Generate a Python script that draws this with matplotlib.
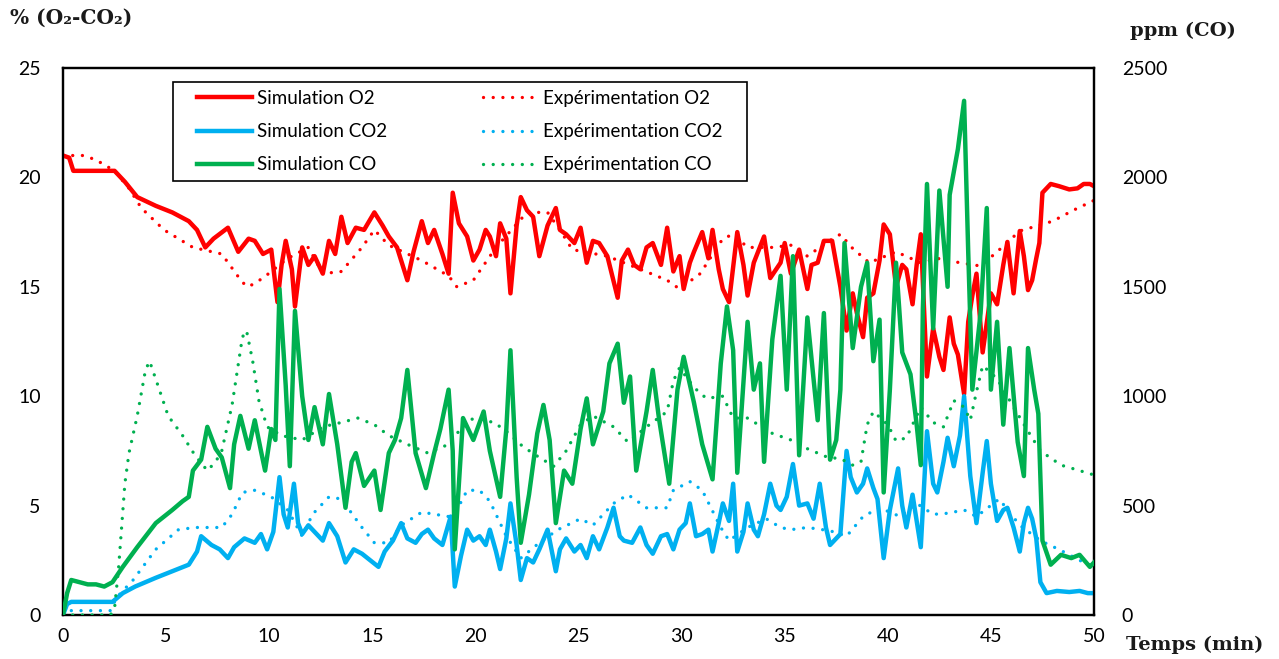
import matplotlib
matplotlib.use("Agg")
import matplotlib.pyplot as plt
from matplotlib.patches import Rectangle


# =====================================
# Data (time in min, O2 / CO2 in %, CO in ppm)
# =====================================

sim_o2_t = [0, 0.3, 0.5, 1.5, 2.5, 3.0, 3.6, 4.5, 5.3, 6.1, 6.5, 6.9, 7.3, 8.0, 8.5, 9.0,
            9.3, 9.7, 10.1, 10.4, 10.6, 10.8, 11.1, 11.25, 11.6, 11.9, 12.2, 12.6, 12.9,
            13.2, 13.5, 13.8, 14.2, 14.6, 15.1, 15.5, 15.8, 16.2, 16.7, 17.0, 17.4, 17.7,
            18.0, 18.4, 18.7, 18.9, 19.2, 19.6, 19.9, 20.2, 20.5, 20.7, 21.0, 21.2, 21.5,
            21.7, 22.0, 22.2, 22.5, 22.8, 23.1, 23.5, 23.9, 24.1, 24.4, 24.8, 25.1, 25.4,
            25.7, 26.0, 26.4, 26.9, 27.1, 27.4, 27.7, 28.0, 28.3, 28.6, 29.0, 29.3, 29.6,
            29.9, 30.1, 30.4, 30.6, 31.0, 31.3, 31.5, 31.8, 32.0, 32.3, 32.7, 33.0, 33.2,
            33.5, 34.0, 34.3, 34.8, 35.0, 35.3, 35.7, 36.1, 36.3, 36.6, 36.9, 37.3, 37.7,
            38.0, 38.3, 38.5, 38.8, 39.0, 39.3, 39.6, 39.8, 40.1, 40.4, 40.7, 40.9, 41.2,
            41.4, 41.6, 41.9, 42.2, 42.5, 42.7, 43.0, 43.2, 43.4, 43.7, 43.9, 44.1, 44.3,
            44.6, 45.0, 45.3, 45.6, 45.8, 46.1, 46.4, 46.6, 46.8, 47.0, 47.2, 47.35, 47.5,
            47.9, 48.3, 48.8, 49.2, 49.5, 49.8, 50.0]
sim_o2 = [21.0, 20.9, 20.3, 20.3, 20.3, 19.8, 19.1, 18.7, 18.4, 18.0, 17.6, 16.8, 17.2, 17.7,
          16.6, 17.2, 17.1, 16.5, 16.7, 14.3, 16.0, 17.1, 15.8, 14.1, 16.8, 16.0, 16.4, 15.6,
          17.1, 16.5, 18.2, 17.0, 17.7, 17.6, 18.4, 17.8, 17.3, 16.8, 15.3, 16.6, 18.0, 17.0,
          17.6, 16.5, 15.6, 19.3, 17.9, 17.3, 16.2, 16.7, 17.6, 17.3, 16.4, 17.9, 17.2, 14.7,
          17.8, 19.1, 18.5, 18.2, 16.4, 17.8, 18.6, 17.6, 17.4, 17.0, 17.7, 16.1, 17.1, 17.0,
          16.4, 14.5, 16.2, 16.7, 16.0, 15.8, 16.8, 17.0, 16.0, 17.7, 15.7, 16.4, 14.9, 16.1,
          16.6, 17.5, 16.3, 17.6, 15.8, 14.9, 14.3, 17.5, 16.0, 14.6, 16.1, 17.3, 15.4, 16.1,
          17.0, 15.6, 16.7, 14.9, 16.0, 16.1, 17.1, 17.1, 15.0, 13.0, 14.7, 13.8, 12.7, 14.5,
          14.7, 16.2, 17.85, 17.4, 15.0, 16.0, 15.8, 14.2, 16.0, 17.4, 10.9, 13.1, 11.8, 11.2,
          13.6, 12.4, 11.9, 10.1, 13.4, 14.6, 15.6, 12.0, 14.7, 14.2, 16.0, 17.05, 14.7, 17.55,
          16.4, 14.85, 15.3, 16.3, 17.0, 19.3, 19.7, 19.6, 19.45, 19.5, 19.7, 19.7, 19.6]

exp_o2_t = [0, 0.5, 1.0, 1.6, 2.5, 3.2, 3.8, 4.9, 6.3, 7.7, 8.7, 9.0, 9.7, 10.9, 11.9, 12.6,
            13.5, 14.5, 15.1, 15.8, 17.4, 18.7, 19.1, 19.9, 21.0, 22.5, 23.5, 24.1, 24.7,
            26.4, 28.0, 29.3, 29.9, 30.9, 32.0, 32.5, 33.2, 34.4, 35.3, 36.1, 37.0, 37.7,
            38.3, 39.1, 40.4, 41.6, 42.4, 43.5, 44.5, 45.3, 46.4, 48.0, 49.0, 50.0]
exp_o2 = [21.0, 21.0, 21.0, 20.8, 20.3, 19.5, 18.6, 17.6, 16.8, 16.5, 15.2, 15.0, 15.4, 16.3,
          16.8, 15.6, 15.7, 16.8, 17.6, 16.9, 16.2, 15.5, 15.0, 15.3, 16.8, 18.4, 18.4, 17.6,
          16.7, 16.4, 15.8, 15.3, 14.9, 15.6, 17.2, 17.4, 16.8, 16.8, 16.9, 16.4, 17.0, 17.4,
          16.75, 16.1, 16.6, 16.1, 16.3, 16.1, 15.95, 16.6, 17.55, 18.0, 18.5, 18.95]

sim_co2_t = [0, 0.2, 0.4, 1.5, 2.4, 2.9, 3.5, 4.5, 5.3, 6.1, 6.5, 6.7, 7.2, 7.6, 8.0, 8.3,
             8.8, 9.3, 9.6, 9.9, 10.2, 10.5, 10.7, 10.9, 11.2, 11.4, 11.6, 11.9, 12.2, 12.6,
             12.9, 13.3, 13.7, 14.1, 14.5, 14.9, 15.3, 15.6, 16.0, 16.4, 16.7, 17.1, 17.4,
             17.7, 18.0, 18.4, 18.8, 19.0, 19.3, 19.6, 19.9, 20.2, 20.5, 20.7, 21.0, 21.2,
             21.5, 21.7, 22.0, 22.2, 22.5, 22.8, 23.1, 23.5, 23.9, 24.1, 24.4, 24.8, 25.1,
             25.4, 25.7, 26.0, 26.4, 26.7, 27.0, 27.2, 27.6, 28.0, 28.3, 28.6, 29.0, 29.3,
             29.6, 29.9, 30.2, 30.4, 30.7, 31.0, 31.3, 31.5, 31.8, 32.0, 32.3, 32.5, 32.7,
             33.0, 33.2, 33.5, 33.7, 34.0, 34.3, 34.6, 34.8, 35.1, 35.4, 35.7, 36.1, 36.4,
             36.7, 37.0, 37.2, 37.5, 37.7, 38.0, 38.2, 38.5, 38.8, 39.0, 39.3, 39.5, 39.8,
             40.1, 40.5, 40.7, 40.9, 41.2, 41.6, 41.9, 42.2, 42.4, 42.7, 42.9, 43.2, 43.5,
             43.7, 44.0, 44.3, 44.6, 44.8, 45.0, 45.3, 45.6, 45.8, 46.1, 46.4, 46.6, 46.8,
             47.0, 47.2, 47.4, 47.7, 48.2, 48.8, 49.3, 49.7, 50.0]
sim_co2 = [0.0, 0.5, 0.6, 0.6, 0.6, 1.0, 1.3, 1.7, 2.0, 2.3, 2.9, 3.6, 3.2, 3.0, 2.6, 3.1,
           3.5, 3.3, 3.7, 3.0, 3.8, 6.3, 4.6, 4.0, 6.0, 4.2, 3.7, 4.1, 3.8, 3.4, 4.2, 3.6,
           2.4, 3.0, 2.8, 2.5, 2.2, 2.9, 3.4, 4.2, 3.5, 3.3, 3.7, 3.9, 3.5, 3.2, 4.5, 1.3,
           2.7, 3.9, 3.4, 3.6, 3.2, 3.9, 2.9, 2.1, 3.5, 5.1, 3.2, 1.6, 2.6, 2.4, 3.0, 3.9,
           2.0, 3.0, 3.5, 2.9, 3.2, 2.6, 3.6, 3.0, 4.0, 4.9, 3.6, 3.4, 3.3, 4.0, 3.2, 2.8,
           3.6, 3.7, 3.0, 3.9, 4.2, 5.1, 3.6, 3.7, 3.9, 2.9, 4.2, 5.1, 4.3, 6.0, 2.9, 3.8,
           5.1, 3.9, 3.6, 4.6, 6.0, 5.0, 4.8, 5.4, 6.9, 5.0, 5.1, 4.4, 6.0, 4.0, 3.2, 3.5,
           3.7, 7.5, 6.3, 5.6, 6.0, 6.7, 5.8, 5.3, 2.6, 4.8, 6.7, 5.0, 4.0, 5.5, 3.1, 8.4,
           6.0, 5.6, 7.0, 8.1, 6.8, 8.2, 10.0, 6.35, 4.2, 6.5, 7.95, 6.0, 4.3, 4.8, 4.9, 4.0,
           2.9, 4.2, 4.9, 4.4, 3.5, 1.5, 1.0, 1.1, 1.05, 1.1, 1.0, 1.0]

exp_co2_t = [0, 0.3, 2.3, 2.6, 3.4, 4.5, 5.6, 6.4, 7.7, 8.2, 8.7, 9.3, 10.1, 10.9, 11.6,
             12.1, 12.9, 13.5, 14.5, 15.1, 15.8, 16.4, 17.4, 18.7, 19.1, 19.6, 20.2, 20.7,
             21.5, 22.2, 23.1, 24.0, 25.1, 25.7, 26.7, 27.4, 28.3, 29.3, 29.6, 30.4, 31.0,
             31.9, 32.3, 33.2, 34.1, 34.8, 35.3, 36.1, 37.2, 38.0, 38.8, 39.6, 40.6, 41.4,
             42.2, 42.9, 43.7, 44.3, 45.4, 46.4, 47.4, 48.4, 49.3, 50.0]
exp_co2 = [0.0, 0.2, 0.2, 0.8, 1.6, 3.0, 3.9, 4.0, 4.0, 4.6, 5.6, 5.7, 5.4, 4.8, 3.6, 4.6,
           5.4, 5.3, 4.0, 3.3, 3.3, 4.1, 4.7, 4.5, 4.8, 5.7, 5.7, 5.2, 3.6, 2.6, 3.3, 3.9,
           4.4, 4.1, 5.1, 5.5, 4.9, 4.9, 5.7, 6.1, 5.7, 4.0, 3.4, 4.0, 4.4, 4.0, 3.9, 4.0,
           3.85, 3.6, 4.5, 4.9, 4.5, 5.1, 4.6, 4.65, 4.8, 4.5, 5.3, 4.1, 3.4, 2.95, 2.5, 2.2]

sim_co_t = [0, 0.2, 0.4, 0.8, 1.2, 1.6, 2.0, 2.4, 2.9, 3.6, 4.5, 5.3, 5.8, 6.1, 6.3, 6.7,
            7.0, 7.4, 7.7, 8.1, 8.3, 8.6, 9.0, 9.3, 9.6, 9.8, 10.1, 10.3, 10.5, 10.8, 11.0,
            11.25, 11.6, 11.9, 12.2, 12.6, 12.9, 13.3, 13.7, 14.0, 14.2, 14.6, 15.1, 15.4,
            15.8, 16.1, 16.4, 16.7, 17.1, 17.6, 18.0, 18.3, 18.7, 18.9, 19.0, 19.4, 19.9,
            20.4, 20.7, 21.2, 21.5, 21.7, 22.0, 22.2, 22.6, 23.0, 23.3, 23.6, 23.9, 24.3,
            24.7, 25.1, 25.4, 25.7, 26.2, 26.5, 26.9, 27.2, 27.5, 27.8, 28.3, 28.6, 28.9,
            29.4, 29.8, 30.1, 30.6, 31.0, 31.5, 31.9, 32.2, 32.5, 32.7, 33.2, 33.5, 33.8,
            34.0, 34.4, 34.8, 35.1, 35.4, 35.7, 36.1, 36.6, 36.9, 37.2, 37.5, 37.7, 37.9,
            38.3, 38.7, 39.0, 39.3, 39.6, 39.8, 40.1, 40.4, 40.7, 41.1, 41.4, 41.6, 41.7,
            41.9, 42.2, 42.5, 42.9, 43.0, 43.4, 43.7, 43.9, 44.1, 44.5, 44.8, 45.0, 45.3,
            45.6, 45.9, 46.3, 46.6, 46.8, 47.1, 47.3, 47.5, 47.9, 48.4, 48.9, 49.3, 49.8, 50.0]
sim_co = [0, 100, 160, 150, 140, 140, 130, 150, 220, 310, 420, 480, 520, 540, 660, 710,
          860, 760, 720, 580, 780, 910, 760, 890, 750, 660, 850, 800, 1490, 1050, 680,
          1390, 1000, 800, 950, 780, 1010, 780, 490, 700, 740, 590, 660, 480, 740, 800,
          900, 1120, 740, 580, 740, 850, 1030, 750, 300, 900, 800, 930, 750, 540, 850,
          1210, 630, 330, 550, 830, 960, 800, 420, 660, 600, 850, 990, 780, 930, 1150,
          1240, 970, 1090, 660, 930, 1120, 900, 600, 1030, 1180, 970, 780, 620, 1150, 1410,
          1210, 650, 1340, 1030, 1150, 700, 1260, 1550, 1030, 1640, 730, 1360, 890, 1380,
          710, 800, 1030, 1700, 1220, 1500, 1610, 1160, 1350, 560, 1030, 1610, 1200, 1100,
          870, 685, 1400, 1970, 1310, 1940, 1500, 1920, 2130, 2350, 1660, 1030, 1380, 1860,
          1030, 1340, 870, 1220, 790, 635, 1220, 1030, 920, 340, 230, 275, 260, 275, 220, 240]

exp_co_t = [0, 2.3, 2.5, 2.7, 3.0, 3.2, 3.6, 4.0, 4.2, 4.6, 5.1, 5.8, 6.4, 7.0, 7.4, 7.7,
            8.2, 8.7, 8.9, 9.2, 9.5, 9.9, 10.6, 11.6, 12.6, 13.5, 14.3, 15.1, 15.8, 16.7,
            17.7, 18.7, 19.1, 19.9, 20.9, 21.5, 22.3, 23.1, 23.8, 24.4, 25.1, 25.7, 26.7,
            27.4, 28.3, 29.3, 29.6, 29.9, 30.6, 31.2, 32.0, 32.5, 33.2, 34.4, 35.3, 36.1,
            37.1, 37.7, 38.3, 38.7, 39.0, 39.3, 40.0, 40.4, 40.9, 41.6, 42.2, 42.7, 43.2,
            43.7, 44.0, 44.3, 44.6, 45.3, 46.1, 46.8, 47.4, 48.4, 49.3, 50.0]
exp_co = [0, 0, 30, 220, 600, 740, 910, 1120, 1160, 1050, 910, 820, 730, 660, 700, 750,
          960, 1270, 1300, 1160, 980, 860, 820, 800, 860, 880, 900, 870, 820, 780, 740,
          780, 830, 900, 880, 840, 770, 720, 680, 750, 870, 910, 860, 790, 860, 930, 1070,
          1130, 1040, 990, 1000, 900, 900, 830, 800, 760, 720, 715, 685, 700, 870, 930, 870,
          795, 810, 950, 880, 860, 980, 950, 890, 1020, 1140, 1080, 950, 840, 750, 685, 660, 640]


# =====================================
# Style
# =====================================

RED = "#FF0000"
BLUE = "#00B0F0"
GREEN = "#00B050"

TICK_FONT = "Lato"
TITLE_FONT = ["DejaVu Serif"]

SIM_LW = 3.2
EXP_LW = 2.4
DOTS = (0, (0.01, 2.9))

W, H = 1279, 659


# =====================================
# Create Chart
# =====================================

fig = plt.figure(figsize=(W / 100, H / 100), dpi=100)
ax = fig.add_axes([63 / W, 1 - 615 / H, (1094 - 63) / W, (615 - 68) / H])
ax2 = ax.twinx()

ax.plot(sim_o2_t, sim_o2, color=RED, lw=SIM_LW, label="Simulation O2", zorder=3)
ax.plot(sim_co2_t, sim_co2, color=BLUE, lw=SIM_LW, label="Simulation CO2", zorder=3)
ax.plot(exp_o2_t, exp_o2, color=RED, lw=EXP_LW, linestyle=DOTS,
        dash_capstyle="round", label="Expérimentation O2", zorder=4)
ax.plot(exp_co2_t, exp_co2, color=BLUE, lw=EXP_LW, linestyle=DOTS,
        dash_capstyle="round", label="Expérimentation CO2", zorder=4)

ax2.plot(sim_co_t, sim_co, color=GREEN, lw=SIM_LW, label="Simulation CO", zorder=3)
ax2.plot(exp_co_t, exp_co, color=GREEN, lw=EXP_LW, linestyle=DOTS,
         dash_capstyle="round", label="Expérimentation CO", zorder=4)

ax.set_xlim(0, 50)
ax.set_ylim(0, 25)
ax2.set_ylim(0, 2500)

ax.set_xticks(range(0, 51, 5))
ax.set_yticks(range(0, 26, 5))
ax2.set_yticks(range(0, 2501, 500))

for a in (ax, ax2):
    a.tick_params(length=0, labelsize=14)
    for lab in a.get_xticklabels() + a.get_yticklabels():
        lab.set_fontfamily(TICK_FONT)
    for sp in a.spines.values():
        sp.set_linewidth(1.6)
        sp.set_color("black")

ax.tick_params(axis="y", pad=16)
ax.tick_params(axis="x", pad=9)
ax2.tick_params(axis="y", pad=20)

ax.patch.set_visible(False)


# =====================================
# Axis titles
# =====================================

fig.text(10 / W, 1 - 18 / H, "% (O₂-CO₂)", fontsize=14.5, fontweight="bold",
         family=TITLE_FONT, color="#1a1a1a", va="center", ha="left")
fig.text(1183 / W, 1 - 31 / H, "ppm (CO)", fontsize=14, fontweight="bold",
         family=TITLE_FONT, color="#1a1a1a", va="center", ha="center")
fig.text(1195 / W, 1 - 645 / H, "Temps (min)", fontsize=14, fontweight="bold",
         family=TITLE_FONT, color="#1a1a1a", va="center", ha="center")


# =====================================
# Legend
# =====================================

h1, l1 = ax.get_legend_handles_labels()
h2, l2 = ax2.get_legend_handles_labels()
handles = [h1[0], h1[1], h2[0], h1[2], h1[3], h2[1]]
labels = [l1[0], l1[1], l2[0], l1[2], l1[3], l2[1]]

box = Rectangle((173 / W, 1 - 181 / H), (747 - 173) / W, (181 - 82) / H,
                transform=fig.transFigure, facecolor="white", edgecolor="black",
                lw=1.2, zorder=1)
fig.patches.append(box)

leg = fig.legend(handles, labels, ncol=2, loc="upper left",
                 bbox_to_anchor=(197 / W, 1 - 90 / H), bbox_transform=fig.transFigure,
                 borderaxespad=0, borderpad=0, frameon=False,
                 prop={"family": TICK_FONT, "size": 13.5},
                 handlelength=2.93, handletextpad=0.27, columnspacing=5.1,
                 labelspacing=0.86)
leg.set_zorder(6)


# =====================================
# Save Image
# =====================================

fig.savefig("out.png", dpi=100)
plt.close(fig)
